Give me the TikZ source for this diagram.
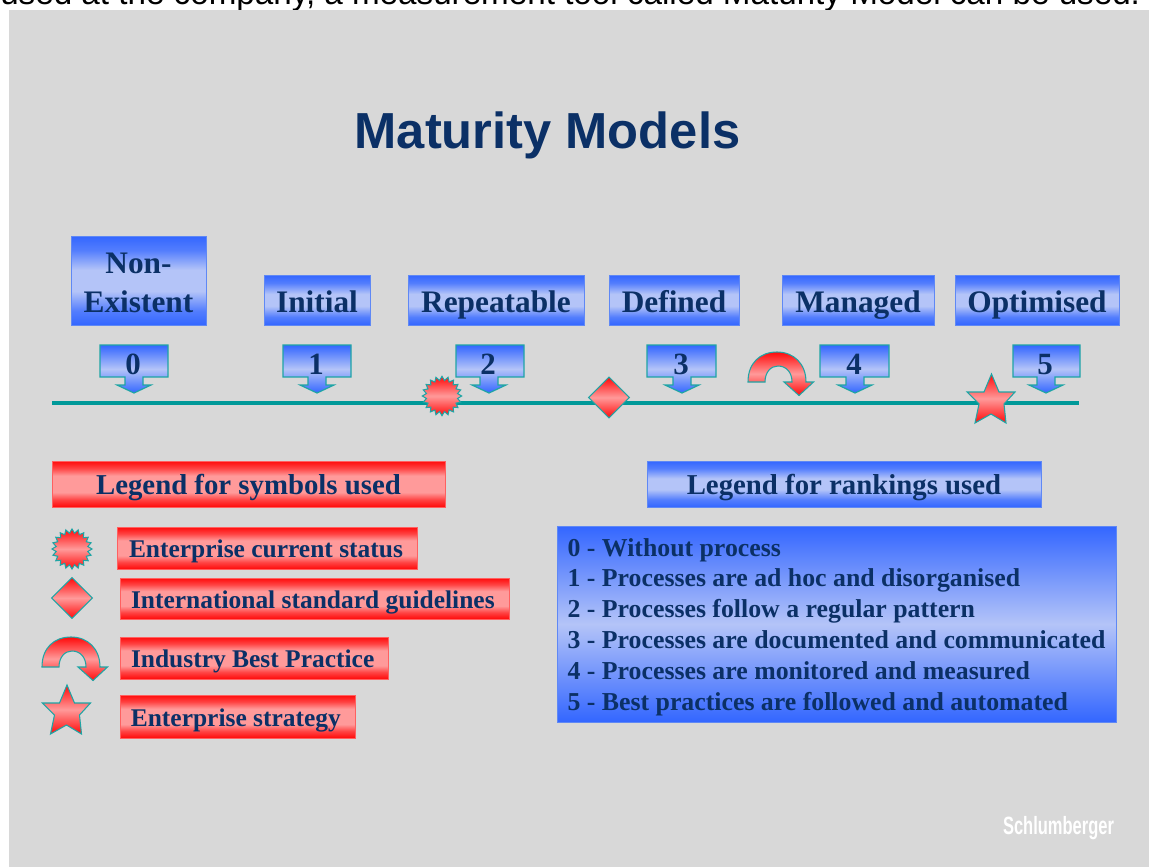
\documentclass[tikz,border=0pt]{standalone}
\usepackage{fontspec}
\setmainfont{Liberation Serif}
\newfontfamily\sansfam{Liberation Sans}
\usetikzlibrary{shapes.geometric}
\definecolor{ink}{HTML}{0B3066}
\definecolor{panel}{HTML}{D8D8D8}
\definecolor{teal}{HTML}{1FA5A5}
\definecolor{axisteal}{HTML}{009999}
\definecolor{bdeep}{HTML}{3366FF}
\definecolor{bpale}{HTML}{B4C4F8}
\definecolor{rdeep}{HTML}{FF0A0A}
\definecolor{rpale}{HTML}{FF9A9A}
\definecolor{bedge}{HTML}{5F88F5}
\definecolor{redge}{HTML}{FF6060}
\pgfdeclareverticalshading{bluebar}{100bp}{color(0bp)=(bdeep); color(25bp)=(bdeep); color(33bp)=(bdeep!75!bpale); color(44bp)=(bpale); color(56bp)=(bpale); color(67bp)=(bdeep!75!bpale); color(75bp)=(bdeep); color(100bp)=(bdeep)}
\pgfdeclareverticalshading{redbar}{100bp}{color(0bp)=(rdeep); color(25bp)=(rdeep); color(33bp)=(rdeep!60!rpale); color(41bp)=(rpale); color(59bp)=(rpale); color(67bp)=(rdeep!60!rpale); color(75bp)=(rdeep); color(100bp)=(rdeep)}
\tikzset{
  plainbox/.style={inner sep=0pt, outer sep=0pt, text=ink, font=\bfseries},
  bluebox/.style={plainbox, shading=bluebar, draw=bedge, line width=0.6pt},
  redbox/.style={plainbox, shading=redbar, draw=redge, line width=0.6pt},
  stagelabel/.style={font=\fontsize{23.5}{29.25}\selectfont\bfseries},
  legendlabel/.style={font=\fontsize{21.6}{25}\selectfont\bfseries, text height=15pt, text depth=0pt},
  itemlabel/.style={font=\fontsize{19.1}{23}\selectfont\bfseries, text height=14.25pt, text depth=0pt},
  calloutshape/.style={draw=teal, line width=0.9pt, top color=bdeep, bottom color=bdeep, middle color=bpale},
  redshape/.style={draw=teal, line width=0.8pt, top color=rdeep, bottom color=rdeep, middle color=rpale, inner sep=0pt, outer sep=0pt},
  digit/.style={anchor=base, text=ink, inner sep=0pt, font=\fontsize{23.2}{28}\selectfont\bfseries},
}
\newcommand\mmbox[7]{\node[#6, minimum width={(#4-#2)*0.75pt}, minimum height={(#5-#3)*0.75pt}] (#1) at ({(#2+#4)/2},{(#3+#5)/2}) {#7};}
\newcommand\mmcall[5]{%
  \path[calloutshape] (#2,345) -- (#4,345) -- (#4,377) -- ({#3+9},377) -- ({#3+9},385) -- ({#3+17},385) -- (#3,393) -- ({#3-17},385) -- ({#3-9},385) -- ({#3-9},377) -- (#2,377) -- cycle;
  \node[digit] (#1) at ({#3-1},374) {#5};}
\newcommand\mmcurve[2]{%
  \path[redshape, shift={(#1,#2)}] (748,382) .. controls (748,363) and (760,352) .. (777,352) .. controls (794,352) and (806,364) .. (806,382) -- (813.5,382) -- (799,395.5) -- (784,382) -- (792,382) .. controls (792,372) and (786,366) .. (778,366) .. controls (771,366) and (765,372) .. (765,382) -- cycle;}
\newcommand\mmstar[2]{%
  \path[redshape, shift={(#1,#2)}] (991.5,374) -- (999,392) -- (1015,392) -- (1004,404) -- (1006,423) -- (991,414) -- (975,423) -- (979,404) -- (967,392) -- (984,392) -- cycle;}
\begin{document}
\begin{tikzpicture}[x=0.75pt,y=-0.75pt]
\useasboundingbox (0,0) rectangle (1149,867);
\begin{scope}
\clip (0,0) rectangle (1149,867);
\node[anchor=base west, inner sep=0pt, font=\sansfam\fontsize{24.9}{30}\selectfont] (toptext) at (0,5) {used at the company, a measurement tool called Maturity Model can be used.};
\fill[panel] (9,10) rectangle (1149,867);
\end{scope}

\node[anchor=base, inner sep=0pt, text=ink, font=\sansfam\bfseries\fontsize{38}{46}\selectfont] (title) at (547.5,148) {Maturity Models};

% stage boxes
\mmbox{s0}{71}{236}{206}{325}{bluebox,stagelabel,align=center,text height=47.25pt,text depth=0pt}{Non-\\Existent}
\mmbox{s1}{264}{275}{370}{325}{bluebox,stagelabel,text height=18.75pt,text depth=0pt}{Initial}
\mmbox{s2}{408}{275}{584}{325}{bluebox,stagelabel,text height=18.75pt,text depth=0pt}{Repeatable}
\mmbox{s3}{609}{275}{739}{325}{bluebox,stagelabel,text height=18.75pt,text depth=0pt}{Defined}
\mmbox{s4}{782}{275}{934}{325}{bluebox,stagelabel,text height=18.75pt,text depth=0pt}{Managed}
\mmbox{s5}{955}{275}{1119}{325}{bluebox,stagelabel,text height=18.75pt,text depth=0pt}{Optimised}

% callouts
\mmcall{c0}{100}{134}{168}{0}
\mmcall{c1}{283}{317}{351}{1}
\mmcall{c2}{456}{489}{524}{2}
\mmcall{c3}{647}{682}{716}{3}
\mmcall{c4}{820}{855}{889}{4}
\mmcall{c5}{1013}{1046}{1080}{5}

% axis
\coordinate (axisL) at (52,403);
\coordinate (axisR) at (1079,403);
\draw[axisteal, line width=3pt] (axisL) -- (axisR);

% symbols on the axis
\node[redshape, star, star points=20, star point ratio=1.25, minimum size=29.5pt] (burstA) at (442,396) {};
\node[redshape, diamond, aspect=1, minimum size=30.5pt] (diamA) at (609,397.5) {};
\mmcurve{0}{0}
\mmstar{0}{0}

% legends
\mmbox{legsym}{52}{461}{445}{507}{redbox,legendlabel}{Legend for symbols used}
\mmbox{legrank}{647}{461}{1041}{507}{bluebox,legendlabel}{Legend for rankings used}

% symbol legend
\node[redshape, star, star points=20, star point ratio=1.25, minimum size=30pt] (burstB) at (72,549) {};
\node[redshape, diamond, aspect=1, minimum size=30.5pt] (diamB) at (72,598) {};
\mmcurve{-706}{285}
\mmstar{-924.5}{311}
\mmbox{i1}{117}{527}{417}{569}{redbox,itemlabel}{\makebox[207pt][l]{Enterprise current status}}
\mmbox{i2}{120}{578}{509}{619}{redbox,itemlabel}{\makebox[275.25pt][l]{International standard guidelines}}
\mmbox{i3}{120}{637}{388}{679}{redbox,itemlabel}{\makebox[184.5pt][l]{Industry Best Practice}}
\mmbox{i4}{120}{695}{355}{738}{redbox,itemlabel}{\makebox[160pt][l]{Enterprise strategy}}

% ranking legend
\mmbox{ranks}{557}{526}{1116}{722}{plainbox,top color=bdeep,bottom color=bdeep,middle color=bpale,draw=bedge,line width=0.6pt,align=left,text height=129pt,text depth=0pt,font=\fontsize{19.35}{23.1}\selectfont\bfseries}{0 - Without process\\1 - Processes are ad hoc and disorganised\\2 - Processes follow a regular pattern\\3 - Processes are documented and communicated\\4 - Processes are monitored and measured\\5 - Best practices are followed and automated}

\node[anchor=base, inner sep=0pt, text=white, font=\sansfam\bfseries\fontsize{18.75}{22}\selectfont] (logo) at (1058.5,834) {\scalebox{0.66}[1]{Schlumberger}};
\end{tikzpicture}
\end{document}
